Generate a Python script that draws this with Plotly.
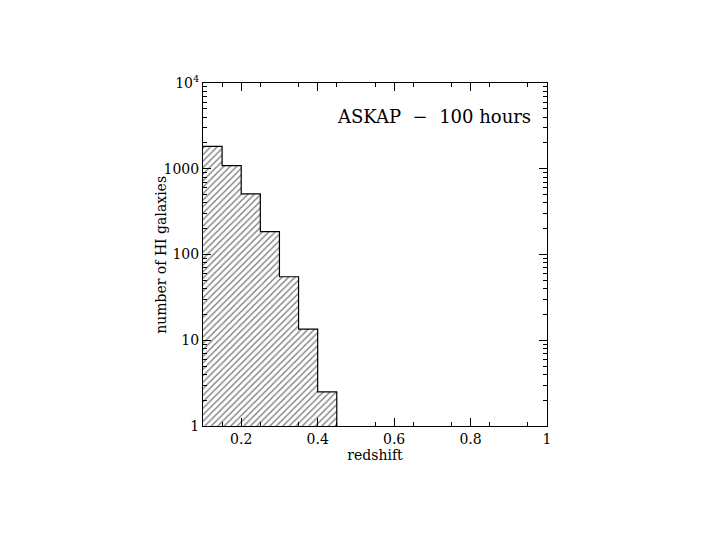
"""Histogram of HI galaxy counts vs redshift for a 100 hour ASKAP survey."""

import plotly.graph_objects as go

FONT = "DejaVu Serif"

# bin edges (redshift) and counts per bin
bin_lo = [0.10, 0.15, 0.20, 0.25, 0.30, 0.35, 0.40]
bin_hi = [0.15, 0.20, 0.25, 0.30, 0.35, 0.40, 0.45]
counts = [1820, 1090, 510, 185, 55, 13.5, 2.5]

y_tickvals = [1, 10, 100, 1000, 10000]
y_ticktext = ["1", "10", "100", "1000", "10<sup>4</sup>"]
x_tickvals = [0.2, 0.4, 0.6, 0.8, 1.0]
x_ticktext = ["0.2", "0.4", "0.6", "0.8", "1"]

centres = [(a + b) / 2 for a, b in zip(bin_lo, bin_hi)]
widths = [b - a for a, b in zip(bin_lo, bin_hi)]

fig = go.Figure()

# hatched bars
fig.add_trace(
    go.Bar(
        x=centres,
        y=counts,
        width=widths,
        marker=dict(
            color="white",
            line=dict(width=0),
            pattern=dict(shape="/", fgcolor="#000000", bgcolor="white", size=4.6, solidity=0.3),
        ),
        showlegend=False,
        hoverinfo="skip",
    )
)

# step outline of the histogram
step_x = bin_lo + [bin_hi[-1], bin_hi[-1]]
step_y = counts + [counts[-1], 1]
fig.add_trace(
    go.Scatter(
        x=step_x,
        y=step_y,
        mode="lines",
        line=dict(shape="hv", color="black", width=1.2),
        showlegend=False,
        hoverinfo="skip",
    )
)

x_minor = [round(0.15 + 0.1 * i, 2) for i in range(9)]
y_minor = [m * 10**d for d in range(4) for m in range(2, 10)]

axis_common = dict(
    showline=True,
    linecolor="black",
    linewidth=1,
    mirror="allticks",
    ticks="inside",
    tickcolor="black",
    tickwidth=1,
    ticklen=8,
    showgrid=False,
    zeroline=False,
    tickfont=dict(family=FONT, size=14, color="black"),
)

fig.update_xaxes(
    range=[0.1, 1.0],
    tickmode="array",
    tickvals=x_tickvals,
    ticktext=x_ticktext,
    minor=dict(ticks="inside", ticklen=4, tickcolor="black", tickvals=x_minor, showgrid=False),
    title=dict(text="redshift", font=dict(family=FONT, size=14, color="black"), standoff=4),
    **axis_common,
)
fig.update_yaxes(
    type="log",
    range=[0, 4],
    tickmode="array",
    tickvals=y_tickvals,
    ticktext=y_ticktext,
    minor=dict(ticks="inside", ticklen=4, tickcolor="black", tickvals=y_minor, showgrid=False),
    **axis_common,
)

# y-axis title placed by hand, tight against the tick labels as in the original
fig.add_annotation(
    text="number of HI galaxies",
    xref="paper",
    yref="paper",
    x=-0.124,
    y=0.5,
    textangle=-90,
    xanchor="center",
    yanchor="middle",
    showarrow=False,
    font=dict(family=FONT, size=14, color="black"),
)

fig.add_annotation(
    text="ASKAP  \u2212  100 hours",
    xref="paper",
    yref="paper",
    x=0.958,
    y=0.902,
    xanchor="right",
    yanchor="middle",
    showarrow=False,
    font=dict(family=FONT, size=18, color="black"),
)

fig.update_layout(
    width=720,
    height=540,
    margin=dict(l=195, r=181, t=75, b=122),
    paper_bgcolor="white",
    plot_bgcolor="white",
    bargap=0,
)

fig.write_html("out.html")
